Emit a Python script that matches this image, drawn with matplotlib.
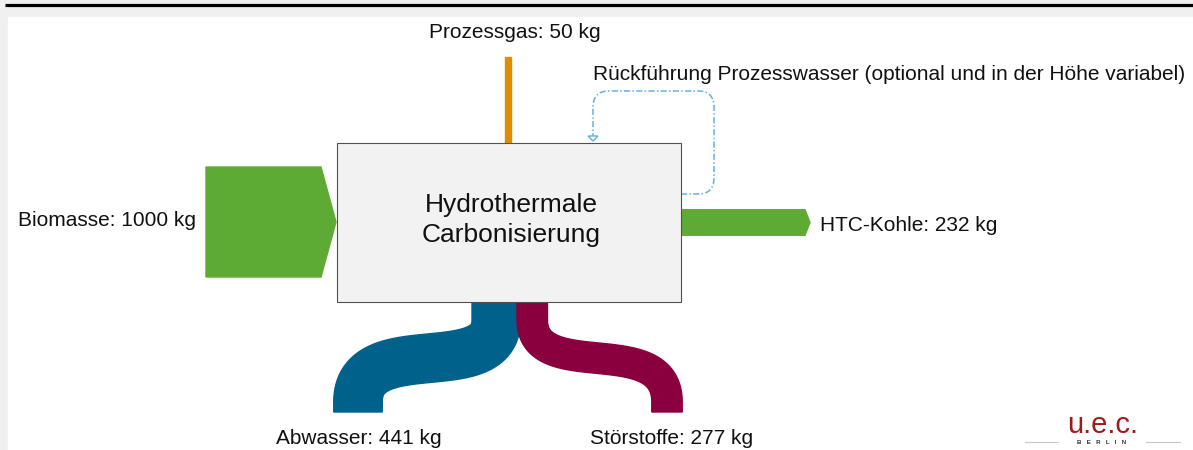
import numpy as np
import matplotlib
matplotlib.use("Agg")
import matplotlib.pyplot as plt
from matplotlib.patches import Rectangle, Polygon
from matplotlib.path import Path
import matplotlib.patches as mpatches

# ---- data ----
flow_labels = ["Biomasse", "HTC-Kohle", "Prozessgas", "Abwasser", "Störstoffe"]
flow_values = [1000, 232, 50, 441, 277]   # kg
unit = "kg"
process_label = "Hydrothermale\nCarbonisierung"
recycle_label = "Rückführung Prozesswasser (optional und in der Höhe variabel)"

colors = {"Biomasse": "#5dab35", "HTC-Kohle": "#5dab35", "Prozessgas": "#e08c00",
          "Abwasser": "#00628b", "Störstoffe": "#8a003e"}

W, H = 1193, 450
fig = plt.figure(figsize=(W / 100, H / 100), dpi=100)
ax = fig.add_axes([0, 0, 1, 1])
ax.set_xlim(0, W)
ax.set_ylim(H, 0)
ax.axis("off")

FONT = "Liberation Sans"
scale = 0.11  # px per kg
val = dict(zip(flow_labels, flow_values))
wid = {k: v * scale for k, v in val.items()}

# background
ax.add_patch(Rectangle((0, 0), W, H, color="#f0f0f0", zorder=0))
ax.add_patch(Rectangle((8, 17), W - 8, H - 17, color="white", zorder=0.5))
ax.plot([5, W], [5, 5], color="black", lw=2.3, solid_capstyle="butt", zorder=1)

# process box
bx0, bx1, by0, by1 = 337, 681, 143, 302
ax.add_patch(Rectangle((bx0, by0), bx1 - bx0, by1 - by0, facecolor="#f2f2f2",
                       edgecolor="#505050", lw=0.8, zorder=3))
ax.text((bx0 + bx1) / 2 + 2, 220, process_label, ha="center", va="center",
        fontsize=19, family=FONT, color="#111111", linespacing=1.3, zorder=4)

# Biomasse input arrow
wb = wid["Biomasse"]
cy = 222
x0, xt = 206, 321
ax.add_patch(Polygon([(x0, cy - wb / 2), (xt, cy - wb / 2), (bx0 - 1, cy), (xt, cy + wb / 2),
                      (x0, cy + wb / 2)], closed=True, color=colors["Biomasse"], zorder=2))
ax.text(18, cy - 2, f"Biomasse: {val['Biomasse']} {unit}", ha="left", va="center",
        fontsize=15, family=FONT, color="#111111")

# HTC-Kohle output arrow
wh = wid["HTC-Kohle"]
cyh = 222.5
ax.add_patch(Polygon([(bx1, cyh - wh / 2), (805, cyh - wh / 2), (810, cyh), (805, cyh + wh / 2),
                      (bx1, cyh + wh / 2)], closed=True, color=colors["HTC-Kohle"], zorder=2))
ax.text(820, cyh + 3, f"HTC-Kohle: {val['HTC-Kohle']} {unit}", ha="left", va="center",
        fontsize=15, family=FONT, color="#111111")

# Prozessgas
wg = wid["Prozessgas"]
ax.add_patch(Rectangle((508 - wg / 2, 57), wg, by0 - 57, color=colors["Prozessgas"], zorder=2))
ax.text(515, 33, f"Prozessgas: {val['Prozessgas']} {unit}", ha="center", va="center",
        fontsize=15, family=FONT, color="#111111")


def band(p0, c1, c2, p3, w, pre=18, post=10, n=120):
    t = np.linspace(0, 1, n)[:, None]
    p0, c1, c2, p3 = map(np.array, (p0, c1, c2, p3))
    start = p0 + np.array([0, pre])
    pts = ((1 - t) ** 3) * start + 3 * ((1 - t) ** 2) * t * c1 + 3 * (1 - t) * t ** 2 * c2 + t ** 3 * p3
    end = p3 + np.array([0, post])
    pts = np.vstack([p0, pts, end])
    d = np.gradient(pts, axis=0)
    d /= np.linalg.norm(d, axis=1)[:, None]
    nrm = np.column_stack([-d[:, 1], d[:, 0]])
    left = pts + nrm * w / 2
    right = pts - nrm * w / 2
    return np.vstack([left, right[::-1]])


wa = wid["Abwasser"]
ws = wid["Störstoffe"]
xa = 472 + wa / 2
xs = 517 + ws / 2
poly_a = band((xa, by1), (xa, 385), (358, 330), (358, 402), wa)
ax.add_patch(Polygon(poly_a, closed=True, color=colors["Abwasser"], zorder=2))
poly_s = band((xs, by1), (xs, 385), (667, 330), (667, 402), ws)
ax.add_patch(Polygon(poly_s, closed=True, color=colors["Störstoffe"], zorder=2))

ax.text(359, 438, f"Abwasser: {val['Abwasser']} {unit}", ha="center", va="center",
        fontsize=15, family=FONT, color="#111111")
ax.text(672, 438, f"Störstoffe: {val['Störstoffe']} {unit}", ha="center", va="center",
        fontsize=15, family=FONT, color="#111111")

# recirculation dashed loop
r = 16
verts = [(bx1, 194), (714 - r, 194), (714, 194), (714, 194 - r), (714, 91 + r), (714, 91),
         (714 - r, 91), (593 + r, 91), (593, 91), (593, 91 + r), (593, 136)]
codes = [Path.MOVETO, Path.LINETO, Path.CURVE3, Path.CURVE3, Path.LINETO, Path.CURVE3, Path.CURVE3,
         Path.LINETO, Path.CURVE3, Path.CURVE3, Path.LINETO]
ax.add_patch(mpatches.PathPatch(Path(verts, codes), fill=False, edgecolor="#5fb4dc",
                                lw=1.1, linestyle=(0, (4, 1.5, 1, 1.5)), zorder=2))
ax.add_patch(Polygon([(588, 136), (598, 136), (593, 141)], closed=True, facecolor="white",
                     edgecolor="#5fb4dc", lw=1.0, zorder=2))
ax.text(593, 75, recycle_label, ha="left", va="center", fontsize=15, family=FONT, color="#111111")

# logo
ax.text(1103, 425, "u.e.c.", ha="center", va="center", fontsize=21, family=FONT,
        color="#a01c1c")
ax.text(1102, 442, "B   E   R   L   I   N", ha="center", va="center", fontsize=4.5, family=FONT,
        color="#333333", fontweight="bold")
ax.plot([1025, 1058], [442, 442], color="#c8c8c8", lw=0.8)
ax.plot([1146, 1180], [442, 442], color="#c8c8c8", lw=0.8)

fig.savefig("out.png", dpi=100)
